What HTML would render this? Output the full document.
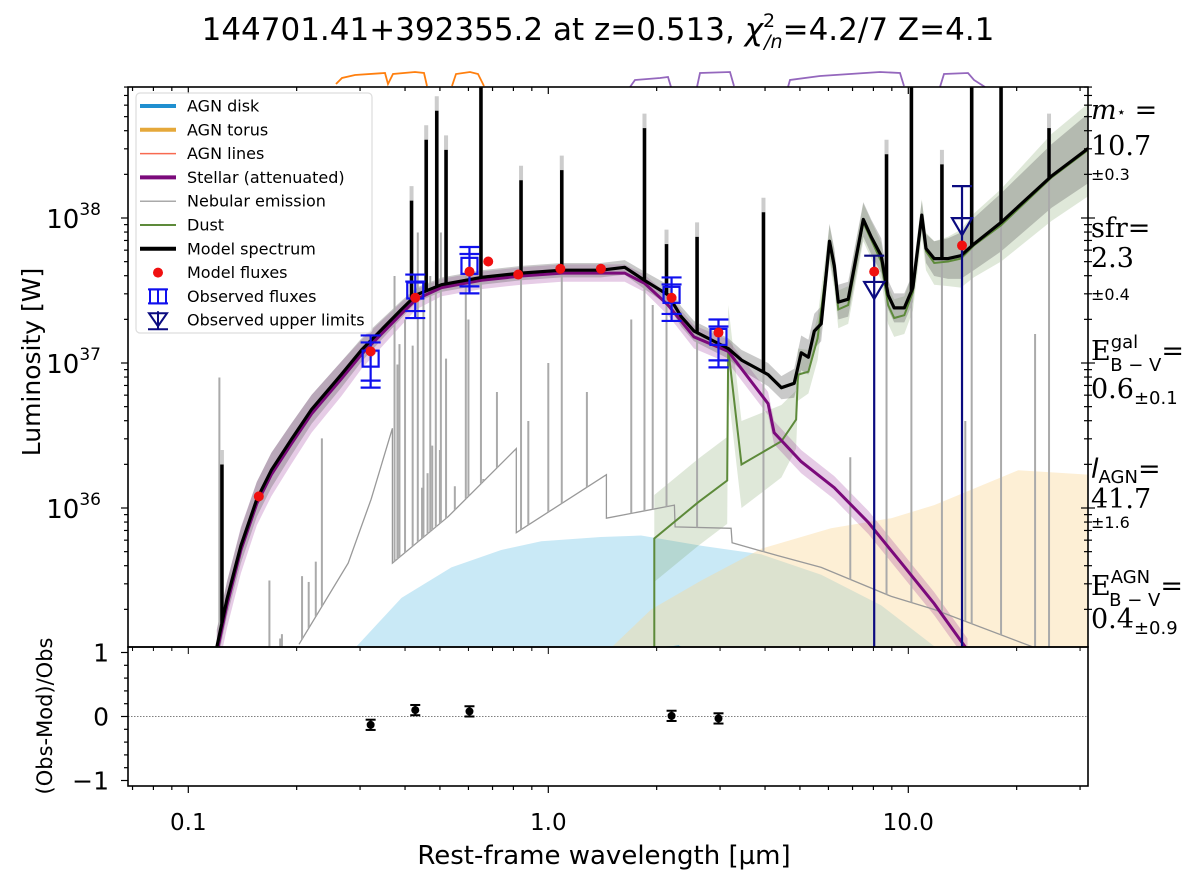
<!DOCTYPE html>
<html><head><meta charset="utf-8"><style>
html,body{margin:0;padding:0;background:#fff;}
svg{display:block;font-family:"DejaVu Sans","Liberation Sans",sans-serif;}
</style></head><body>
<svg id="c" width="1200" height="878" viewBox="0 0 1200 878" xmlns="http://www.w3.org/2000/svg">
<defs><clipPath id="clipMain"><rect x="128" y="87" width="960" height="560"/></clipPath>
<clipPath id="clipRes"><rect x="128" y="647" width="960" height="139"/></clipPath></defs>
<text x="598" y="40" font-size="31" text-anchor="middle">144701.41+392355.2 at z=0.513, <tspan font-style="italic">χ</tspan><tspan font-size="19" dy="-13">2</tspan><tspan font-size="19" dx="-11" dy="21" font-style="italic">/n</tspan><tspan dy="-8">=4.2/7 Z=4.1</tspan></text>
<g id="filters"></g>
<g id="main" clip-path="url(#clipMain)"></g>
<g id="res" clip-path="url(#clipRes)"></g>
<g id="axes"></g>
<g id="legend"></g>
<g id="params" font-family="DejaVu Serif, Liberation Serif, serif" font-size="27">
 <text x="1091" y="119"><tspan font-style="italic">m</tspan><tspan font-size="15" dy="-2">⋆</tspan><tspan dy="2"> =</tspan></text>
 <text x="1091" y="155">10.7</text>
 <text x="1091" y="180" font-size="16" font-family="DejaVu Sans, sans-serif">±0.3</text>
 <text x="1091" y="237">sfr=</text>
 <text x="1091" y="267">2.3</text>
 <text x="1091" y="300" font-size="16" font-family="DejaVu Sans, sans-serif">±0.4</text>
 <text x="1091" y="360">E<tspan font-size="18" font-family="DejaVu Sans, sans-serif" dy="-12">gal</tspan><tspan font-size="18" font-family="DejaVu Sans, sans-serif" dx="-28" dy="23">B − V</tspan><tspan dy="-11">=</tspan></text>
 <text x="1091" y="398">0.6<tspan font-size="18" font-family="DejaVu Sans, sans-serif" dy="6">±0.1</tspan></text>
 <text x="1091" y="478"><tspan font-style="italic" font-family="DejaVu Sans, sans-serif">l</tspan><tspan font-size="18" font-family="DejaVu Sans, sans-serif" dy="5">AGN</tspan><tspan dy="-5">=</tspan></text>
 <text x="1091" y="508">41.7</text>
 <text x="1091" y="528" font-size="16" font-family="DejaVu Sans, sans-serif">±1.6</text>
 <text x="1091" y="595">E<tspan font-size="18" font-family="DejaVu Sans, sans-serif" dy="-12">AGN</tspan><tspan font-size="18" font-family="DejaVu Sans, sans-serif" dx="-41" dy="23">B − V</tspan><tspan dy="-11">=</tspan></text>
 <text x="1091" y="628">0.4<tspan font-size="18" font-family="DejaVu Sans, sans-serif" dy="6">±0.9</tspan></text>
</g>
</svg>
<script>
// ---------- data ----------
const modelLam=[0.120,0.128,0.140,0.155,0.170,0.193,0.220,0.266,0.303,0.344,0.391,0.430,0.505,0.652,0.841,1.09,1.40,1.63,1.85,2.15,2.34,2.54,3.16,3.44,4.08,4.44,4.82,5.04,5.28,5.48,5.73,6.04,6.23,6.39,6.81,7.50,7.89,8.41,8.79,9.14,9.75,10.3,10.9,11.2,11.8,12.9,14.0,15.2,18.1,25.0,31.6];
const modelLum=[35.04,35.37,35.74,36.06,36.26,36.47,36.68,36.92,37.09,37.23,37.37,37.47,37.54,37.59,37.62,37.64,37.64,37.66,37.57,37.47,37.32,37.22,37.10,37.02,36.92,36.83,36.86,37.07,37.04,37.22,37.27,37.84,37.67,37.42,37.44,37.99,37.87,37.74,37.47,37.38,37.38,37.52,38.02,37.79,37.72,37.72,37.74,37.82,37.97,38.29,38.48];
const modelErr=[0.12,0.12,0.12,0.12,0.12,0.11,0.1,0.09,0.08,0.07,0.06,0.05,0.05,0.05,0.05,0.05,0.05,0.05,0.06,0.07,0.07,0.07,0.07,0.07,0.08,0.08,0.1,0.12,0.12,0.12,0.12,0.12,0.12,0.12,0.12,0.12,0.12,0.12,0.1,0.1,0.1,0.1,0.1,0.1,0.12,0.14,0.16,0.18,0.2,0.22,0.24];
const lineLam=[0.124,0.417,0.458,0.49,0.52,0.65,0.84,1.09,1.85,2.13,2.59,3.96,8.7,10.2,12.4,15.0,18.1,24.6];
const lineLum=[36.30,38.12,38.54,38.74,38.47,38.95,38.26,38.33,38.62,37.82,37.87,38.04,38.44,38.95,38.37,38.95,38.95,38.62];
const stellarLam=[0.120,0.128,0.140,0.155,0.170,0.193,0.220,0.266,0.303,0.344,0.391,0.430,0.505,0.652,0.841,1.09,1.40,1.63,1.85,2.15,2.54,3.16,4.08,4.24,5.04,6.23,7.75,9.57,11.8,14.6];
const stellarLum=[35.0,35.33,35.71,36.03,36.23,36.44,36.65,36.89,37.06,37.20,37.34,37.44,37.52,37.57,37.60,37.62,37.62,37.62,37.55,37.40,37.18,37.08,36.72,36.52,36.32,36.14,35.90,35.62,35.34,35.02];
const stellarErr=[0.16,0.16,0.16,0.15,0.15,0.14,0.13,0.12,0.1,0.09,0.08,0.07,0.06,0.06,0.06,0.06,0.06,0.06,0.06,0.07,0.08,0.08,0.08,0.08,0.08,0.08,0.08,0.08,0.08,0.08];
const nebLam=[0.203,0.278,0.322,0.369,0.369,0.527,0.815,0.815,1.45,1.45,2.24,2.25,3.22,3.24,4.35,5.73,8.97,11.8,23.4,31.6];
const nebLum=[35.06,35.62,36.06,36.55,35.62,35.94,36.41,35.83,36.23,35.93,36.02,35.87,35.86,35.76,35.67,35.59,35.39,35.30,35.02,34.9];
const nebLineLam=[0.122,0.168,0.180,0.182,0.207,0.216,0.226,0.235,0.374,0.381,0.386,0.40,0.42,0.434,0.446,0.45,0.462,0.47,0.476,0.487,0.50,0.503,0.52,0.55,0.59,0.60,0.65,0.66,0.72,0.84,0.88,1.0,1.09,1.28,1.7,1.85,1.95,2.13,2.59,3.96,6.9,8.7,10.2,12.4,14.4,15.0,18.1,22.5,24.6];
const nebLineLum=[36.9,35.5,35.1,35.13,35.53,35.49,35.63,36.48,37.6,36.99,37.13,37.3,37.12,37.9,36.14,37.5,36.24,37.6,36.43,37.7,36.4,37.9,37.03,36.15,37.6,37.3,38.95,36.2,36.8,38.3,36.6,37.0,38.4,36.8,37.3,38.7,37.4,37.9,37.95,38.1,36.35,38.5,38.95,38.4,36.6,38.95,38.95,37.2,38.7];
const dustLam=[1.97,1.97,2.61,3.14,3.16,3.44,4.44,4.88,4.94,5.28,5.6,6.04,6.23,6.39,6.81,7.5,7.89,8.41,8.79,9.14,9.75,10.3,10.9,11.2,11.8,12.9,14.0,15.2,18.1,25.0,31.6];
const dustLum=[34.8,35.79,36.04,36.19,37.10,36.30,36.46,36.61,36.92,36.94,37.17,37.82,37.64,37.37,37.40,37.97,37.85,37.70,37.40,37.31,37.33,37.49,38.0,37.77,37.69,37.70,37.72,37.81,37.95,38.28,38.47];
const dustErr=[0.3,0.3,0.3,0.3,0.3,0.3,0.25,0.2,0.18,0.15,0.15,0.13,0.13,0.13,0.13,0.13,0.13,0.13,0.13,0.13,0.13,0.13,0.13,0.13,0.15,0.17,0.2,0.22,0.25,0.3,0.32];
const diskLam=[0.292,0.391,0.538,0.74,0.956,1.40,1.81,2.66,3.91,5.73,8.4,11.9];
const diskLum=[35.04,35.38,35.59,35.71,35.77,35.80,35.81,35.74,35.68,35.54,35.33,35.04];
const torusLam=[1.5,1.93,2.66,3.91,6.1,8.97,11.8,20.2,31.6];
const torusLum=[35.04,35.3,35.5,35.72,35.86,35.93,36.02,36.26,36.23];
const obsLam=[0.321,0.427,0.604,2.20,2.97];
const obsLum=[37.03,37.50,37.67,37.47,37.18];
const obsHi=[37.19,37.61,37.80,37.59,37.30];
const obsLo=[36.83,37.31,37.48,37.29,36.97];
const modLam=[0.157,0.321,0.427,0.604,0.681,0.825,1.08,1.40,2.20,2.97,8.04,14.1];
const modLum=[36.08,37.08,37.45,37.63,37.70,37.61,37.65,37.65,37.45,37.21,37.63,37.81];
const ulLam=[8.04,14.1];
const ulLum=[37.49,37.93];
const ulCap=[37.74,38.22];
const resVal=[-0.13,0.10,0.08,0.01,-0.03];
const resErr=[0.08,0.08,0.08,0.08,0.08];
const xTickVals=[0.1,1.0,10.0];
const xTickLabels=["0.1","1.0","10.0"];
const yTickExp=[36,37,38];
const resTicks=[-1,0,1];

// ---------- scales ----------
const L0=Math.log10(0.068);
function X(l){return 128+(Math.log10(l)-L0)*360;}
function Y(g){return 218+(38-g)*145;}
function YR(v){return 716.5-v*64;}
const NS="http://www.w3.org/2000/svg";
function mk(tag,parent,attrs){const e=document.createElementNS(NS,tag);for(const k in attrs)e.setAttribute(k,attrs[k]);parent.appendChild(e);return e;}
function path(lams,lums){return lams.map((l,i)=>(i?'L':'M')+X(l).toFixed(1)+','+Y(lums[i]).toFixed(1)).join(' ');}
function band(lams,lums,err){let s=lams.map((l,i)=>(i?'L':'M')+X(l).toFixed(1)+','+Y(lums[i]+err[i]).toFixed(1)).join(' ');for(let i=lams.length-1;i>=0;i--)s+=' L'+X(lams[i]).toFixed(1)+','+Y(lums[i]-err[i]).toFixed(1);return s+'Z';}
function interp(lams,lums,l){for(let i=1;i<lams.length;i++){if(l<=lams[i]){const a=Math.log10(lams[i-1]),b=Math.log10(lams[i]);const t=b===a?0:(Math.log10(l)-a)/(b-a);return lums[i-1]+t*(lums[i]-lums[i-1]);}}return lums[lums.length-1];}
const M=document.getElementById('main');

let e;
e=mk('path',M,{d:path(diskLam,diskLum)+' L'+X(11.9)+',660 L'+X(0.292)+',660Z',fill:'rgba(135,206,235,0.45)'});


e=mk('path',M,{d:path(torusLam,torusLum)+' L'+X(31.6)+',660 L'+X(1.5)+',660Z',fill:'rgba(250,215,150,0.4)'});


e=mk('path',M,{d:band(dustLam,dustLum,dustErr),fill:'rgba(110,150,80,0.22)'});


e=mk('path',M,{d:band(stellarLam,stellarLum,stellarErr),fill:'rgba(128,0,128,0.2)'});


e=mk('path',M,{d:band(modelLam,modelLum,modelErr),fill:'rgba(100,100,100,0.35)'});


e=mk('path',M,{d:path(nebLam,nebLum),fill:'none',stroke:'#999',"stroke-width":1.3});


nebLineLam.forEach((l,i)=>{const x=X(l);const b=l<0.203?34.8:interp(nebLam,nebLum,l);
 const ln=mk('line',M,{x1:x,x2:x,y1:Y(b),y2:Y(nebLineLum[i]),stroke:'#aaa',"stroke-width":2});
 
 });
lineLam.forEach((l,i)=>{const x=X(l);
 const ln=mk('line',M,{x1:x,x2:x,y1:Y(interp(modelLam,modelLum,l)),y2:Y(lineLum[i]+0.1),stroke:'#ccc',"stroke-width":4});
 
 });
e=mk('path',M,{d:path(dustLam,dustLum),fill:'none',stroke:'#5d8a3a',"stroke-width":2});


e=mk('path',M,{d:path(stellarLam,stellarLum),fill:'none',stroke:'#7b0a7b',"stroke-width":3});


e=mk('path',M,{d:'M'+X(1.8)+','+Y(35.0)+' L'+X(2.0)+','+Y(35.03)+' L'+X(2.3)+','+Y(35.04)+' L'+X(2.6)+','+Y(35.0),fill:'none',stroke:'#1f8fd0',"stroke-width":3});


e=mk('path',M,{d:path(modelLam,modelLum),fill:'none',stroke:'#000',"stroke-width":3.2,"stroke-linejoin":"round"});


lineLam.forEach((l,i)=>{const x=X(l);
 const ln=mk('line',M,{x1:x,x2:x,y1:Y(interp(modelLam,modelLum,l)),y2:Y(lineLum[i]),stroke:'#000',"stroke-width":3.5});
 
 });
ulLam.forEach((l,i)=>{const x=X(l),y=Y(ulLum[i]),c=Y(ulCap[i]);
 const g=mk('g',M,{stroke:'#0b0b80',"stroke-width":2.2,fill:'none'});
 
 
 mk('line',g,{x1:x,x2:x,y1:c,y2:660});
 mk('line',g,{x1:x-10,x2:x+10,y1:c,y2:c});
 mk('path',g,{d:`M${x-10},${y-10} L${x+10},${y-10} L${x},${y+7}Z`});});
obsLam.forEach((l,i)=>{const x=X(l),y=Y(obsLum[i]),h=Y(obsHi[i]),lo=Y(obsLo[i]);
 const g=mk('g',M,{stroke:'#1010ee',"stroke-width":2.2,fill:'none'});
 
 
 mk('line',g,{x1:x,x2:x,y1:h,y2:lo});
 mk('line',g,{x1:x-10,x2:x+10,y1:h,y2:h});
 mk('line',g,{x1:x-10,x2:x+10,y1:lo,y2:lo});
 mk('line',g,{x1:x-10,x2:x+10,y1:h+7,y2:h+7});
 mk('line',g,{x1:x-10,x2:x+10,y1:lo-7,y2:lo-7});
 mk('rect',g,{x:x-8,y:y-8,width:16,height:16});});
modLam.forEach((l,i)=>{const c=mk('circle',M,{cx:X(l),cy:Y(modLum[i]),r:5,fill:'#f01010'});
 
 });

const R=document.getElementById('res');
e=mk('line',R,{x1:128,x2:1088,y1:YR(0),y2:YR(0),stroke:'#555',"stroke-width":0.8,"stroke-dasharray":"1.5,1.5"});


obsLam.forEach((l,i)=>{const x=X(l),y=YR(resVal[i]),h=YR(resVal[i]+resErr[i]),lo=YR(resVal[i]-resErr[i]);
 const g=mk('g',R,{stroke:'#000',"stroke-width":2});
 
 
 mk('line',g,{x1:x,x2:x,y1:h,y2:lo});
 mk('line',g,{x1:x-5,x2:x+5,y1:h,y2:h});
 mk('line',g,{x1:x-5,x2:x+5,y1:lo,y2:lo});
 mk('circle',g,{cx:x,cy:y,r:4,fill:'#000',stroke:'none'});});

const A=document.getElementById('axes');
e=mk('rect',A,{x:128,y:87,width:960,height:560,fill:'none',stroke:'#000',"stroke-width":1.6});


e=mk('rect',A,{x:128,y:647,width:960,height:139,fill:'none',stroke:'#000',"stroke-width":1.6});


for(let d=-2;d<=1;d++)for(let m=1;m<10;m++){const l=m*Math.pow(10,d);const x=X(l);if(x<128||x>1088)continue;const len=m===1?7:4;
 mk('line',A,{x1:x,x2:x,y1:786,y2:786+len,stroke:'#000',"stroke-width":1.2});
 mk('line',A,{x1:x,x2:x,y1:87,y2:87+len,stroke:'#000',"stroke-width":1.2});
 mk('line',A,{x1:x,x2:x,y1:647,y2:647+len,stroke:'#000',"stroke-width":1});}
xTickVals.forEach((v,i)=>{const t=mk('text',A,{x:X(v),y:830,"font-size":23,"text-anchor":"middle"});t.textContent=xTickLabels[i];
 
 });
for(let d=34;d<=38;d++)for(let m=1;m<10;m++){const g=d+Math.log10(m);const y=Y(g);if(y<87||y>647)continue;const len=m===1?7:4;
 mk('line',A,{x1:128-len,x2:128,y1:y,y2:y,stroke:'#000',"stroke-width":1.2});
 mk('line',A,{x1:1088-len,x2:1088+len,y1:y,y2:y,stroke:'#000',"stroke-width":1.2});}
yTickExp.forEach(v=>{const t=mk('text',A,{x:101,y:Y(v)+10,"font-size":26,"text-anchor":"end"});t.innerHTML='10<tspan font-size="17" dy="-13">'+v+'</tspan>';
 
 });
for(let v=-1;v<=1.01;v+=0.2){const y=YR(v);const major=Math.abs(v-Math.round(v))<0.01;mk('line',A,{x1:major?121:124,x2:128,y1:y,y2:y,stroke:'#000',"stroke-width":1.2});}
resTicks.forEach(v=>{const t=mk('text',A,{x:109,y:YR(v)+9,"font-size":25,"text-anchor":"end"});t.textContent=v<0?'−1':String(v);
 
 });
let t=mk('text',A,{x:604,y:864,"font-size":26,"text-anchor":"middle"});t.textContent='Rest-frame wavelength [µm]';


t=mk('text',A,{x:0,y:0,"font-size":25,"text-anchor":"middle",transform:'translate(40,362) rotate(-90)'});t.textContent='Luminosity [W]';


t=mk('text',A,{x:0,y:0,"font-size":21,"text-anchor":"middle",transform:'translate(52,716) rotate(-90)'});t.textContent='(Obs-Mod)/Obs';



const F=document.getElementById('filters');
e=mk('path',F,{d:'M336,84 L342,78 L355,75 L385,73 L388,84 L393,74 L415,72 L424,73 L427,86 M452,86 L456,74 L470,72 L478,74 L484,86',fill:'none',stroke:'#ff7f0e',"stroke-width":1.8});


e=mk('path',F,{d:'M630,87 L635,80 L660,78 L668,77 L671,87 M697,87 L700,73 L730,72 L734,86 M788,87 L790,80 L820,76 L850,74 L880,72 L900,73 L904,86 M940,87 L944,74 L968,73 L974,80 L985,87',fill:'none',stroke:'#9467bd',"stroke-width":1.8});



const G=document.getElementById('legend');
e=mk('rect',G,{x:136,y:93,width:236,height:240,rx:4,fill:'rgba(255,255,255,0.85)',stroke:'#ddd',"stroke-width":1.2});


const legNames=['AGN disk','AGN torus','AGN lines','Stellar (attenuated)','Nebular emission','Dust','Model spectrum','Model fluxes','Observed fluxes','Observed upper limits'];
const legColors=['#1f8fd0','#e5a83a','#f86a50','#7b0a7b','#aaa','#5d8a3a','#000','#f01010','#1010ee','#0b0b80'];
const legWidths=[4,4,1.5,4,1.5,2,4,0,0,0];
legNames.forEach((n,i)=>{const y=106+i*23.8;
 const g=mk('g',G,{});
 
 
 if(i<7)mk('line',g,{x1:140,x2:176,y1:y,y2:y,stroke:legColors[i],"stroke-width":legWidths[i]});
 else if(i===7)mk('circle',g,{cx:158,cy:y,r:5,fill:legColors[i]});
 else if(i===8){const s=mk('g',g,{stroke:legColors[i],"stroke-width":2,fill:'none'});mk('rect',s,{x:150,y:y-7,width:16,height:14});mk('line',s,{x1:158,x2:158,y1:y-7,y2:y+7});mk('line',s,{x1:148,x2:168,y1:y-7,y2:y-7});mk('line',s,{x1:148,x2:168,y1:y+7,y2:y+7});}
 else {const s=mk('g',g,{stroke:legColors[i],"stroke-width":2,fill:'none'});mk('path',s,{d:`M149,${y-7} L167,${y-7} L158,${y+6}Z`});mk('line',s,{x1:158,x2:158,y1:y-9,y2:y+9});mk('line',s,{x1:148,x2:168,y1:y+9,y2:y+9});}
 const tx=mk('text',g,{x:187,y:y+5.5,"font-size":16});tx.textContent=n;});
</script>
</body></html>
